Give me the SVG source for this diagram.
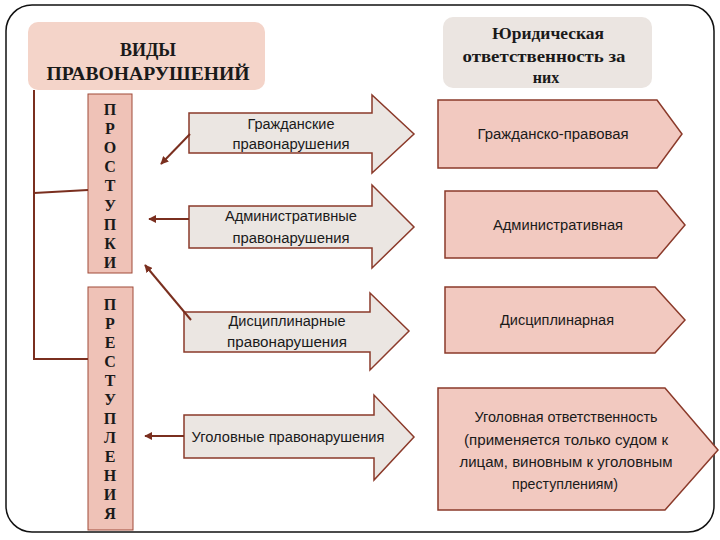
<svg xmlns="http://www.w3.org/2000/svg" width="720" height="540" viewBox="0 0 720 540">
<style>
.frame{fill:#fff;stroke:#111;stroke-width:1.5}
.hdr{font-family:"Liberation Serif",serif;font-weight:bold;fill:#1a1a1a;text-anchor:middle}
.vl{font-family:"Liberation Serif",serif;font-weight:bold;font-size:16px;fill:#1a1a1a;text-anchor:middle}
.t{font-family:"Liberation Sans Narrow","Liberation Sans",sans-serif;font-size:14px;fill:#1a1a1a;text-anchor:middle}
.arr{fill:#ebe6e2;stroke:#8b3a2a;stroke-width:1.5}
.pent{fill:#f2c9c0;stroke:#8b3a2a;stroke-width:1.5}
.vbox{fill:#efc2b7;stroke:#a04a38;stroke-width:1}
.con{stroke:#7a2f1f;stroke-width:2;fill:none}
</style>
<defs>
<marker id="ah" viewBox="0 0 10 10" refX="9" refY="5" markerWidth="4" markerHeight="4" orient="auto">
<path d="M0,0 L10,5 L0,10 z" fill="#7a2f1f"/>
</marker>
</defs>
<rect class="frame" x="6" y="5" width="708" height="527" rx="26" ry="26"/>

<g id="title">
<rect x="28" y="22" width="237" height="68" rx="10" fill="#f4d4c9"/>
<text class="hdr" x="148" y="56" font-size="18">ВИДЫ</text>
<text class="hdr" x="148" y="80" font-size="18" textLength="203" lengthAdjust="spacingAndGlyphs">ПРАВОНАРУШЕНИЙ</text>
</g>

<g id="resp-title">
<rect x="443" y="17" width="209" height="71" rx="10" fill="#ebe5e1"/>
<text class="hdr" x="548" y="39" font-size="16" textLength="112" lengthAdjust="spacingAndGlyphs">Юридическая</text>
<text class="hdr" x="544" y="62" font-size="16" textLength="163" lengthAdjust="spacingAndGlyphs">ответственность за</text>
<text class="hdr" x="546" y="83" font-size="16">них</text>
</g>

<g id="prostupki">
<rect class="vbox" x="88" y="94" width="44" height="179"/>
<text class="vl" x="110" y="115">П</text>
<text class="vl" x="110" y="134">Р</text>
<text class="vl" x="110" y="153">О</text>
<text class="vl" x="110" y="172">С</text>
<text class="vl" x="110" y="191">Т</text>
<text class="vl" x="110" y="211">У</text>
<text class="vl" x="110" y="230">П</text>
<text class="vl" x="110" y="249">К</text>
<text class="vl" x="110" y="268">И</text>
</g>

<g id="prestupleniya">
<rect class="vbox" x="88" y="287" width="45" height="243"/>
<text class="vl" x="110" y="310">П</text>
<text class="vl" x="110" y="329">Р</text>
<text class="vl" x="110" y="348">Е</text>
<text class="vl" x="110" y="367">С</text>
<text class="vl" x="110" y="386">Т</text>
<text class="vl" x="110" y="405">У</text>
<text class="vl" x="110" y="424">П</text>
<text class="vl" x="110" y="443">Л</text>
<text class="vl" x="110" y="462">Е</text>
<text class="vl" x="110" y="481">Н</text>
<text class="vl" x="110" y="500">И</text>
<text class="vl" x="110" y="519">Я</text>
</g>

<g id="arrow-civil">
<path class="arr" d="M189,113 H372 V95 L414,134 L372,173 V153 H189 Z"/>
<text class="t" x="291" y="129" textLength="87" lengthAdjust="spacingAndGlyphs">Гражданские</text>
<text class="t" x="291" y="149" textLength="117" lengthAdjust="spacingAndGlyphs">правонарушения</text>
</g>

<g id="arrow-admin">
<path class="arr" d="M189,206 H372 V185 L414,227 L372,268 V248 H189 Z"/>
<text class="t" x="291" y="221" textLength="132" lengthAdjust="spacingAndGlyphs">Административные</text>
<text class="t" x="291" y="243" textLength="117" lengthAdjust="spacingAndGlyphs">правонарушения</text>
</g>

<g id="arrow-disc">
<path class="arr" d="M184,312 H370 V293 L409,331 L370,370 V352 H184 Z"/>
<text class="t" x="287" y="326" textLength="117" lengthAdjust="spacingAndGlyphs">Дисциплинарные</text>
<text class="t" x="287" y="347" textLength="120" lengthAdjust="spacingAndGlyphs">правонарушения</text>
</g>

<g id="arrow-crim">
<path class="arr" d="M184,415 H374 V395 L414,437 L374,480 V458 H184 Z"/>
<text class="t" x="288" y="442" textLength="193" lengthAdjust="spacingAndGlyphs">Уголовные правонарушения</text>
</g>

<g id="resp-civil">
<path class="pent" d="M438,100 H657 L682,134 L657,168 H438 Z"/>
<text class="t" x="553" y="139" textLength="151" lengthAdjust="spacingAndGlyphs">Гражданско-правовая</text>
</g>

<g id="resp-admin">
<path class="pent" d="M445,191 H657 L685,225 L657,258 H445 Z"/>
<text class="t" x="558" y="230" textLength="130" lengthAdjust="spacingAndGlyphs">Административная</text>
</g>

<g id="resp-disc">
<path class="pent" d="M445,287 H655 L685,320 L655,353 H445 Z"/>
<text class="t" x="557" y="325" textLength="114" lengthAdjust="spacingAndGlyphs">Дисциплинарная</text>
</g>

<g id="resp-crim">
<path class="pent" d="M438,388 H665 L718,450 L665,510 H438 Z"/>
<text class="t" x="566" y="422" textLength="183" lengthAdjust="spacingAndGlyphs">Уголовная ответственность</text>
<text class="t" x="566" y="445" textLength="204" lengthAdjust="spacingAndGlyphs">(применяется  только судом к</text>
<text class="t" x="566" y="467" textLength="213" lengthAdjust="spacingAndGlyphs">лицам, виновным к уголовным</text>
<text class="t" x="565" y="489" textLength="106" lengthAdjust="spacingAndGlyphs">преступлениям)</text>
</g>

<g id="connectors">
<path class="con" d="M34,90 V359 H88"/>
<path class="con" d="M34,193 L88,190"/>
<path class="con" d="M190,134 L161,164" marker-end="url(#ah)"/>
<path class="con" d="M189,219 L149,219" marker-end="url(#ah)"/>
<path class="con" d="M191,320 L145,265" marker-end="url(#ah)"/>
<path class="con" d="M184,436 L145,436" marker-end="url(#ah)"/>
</g>
</svg>
